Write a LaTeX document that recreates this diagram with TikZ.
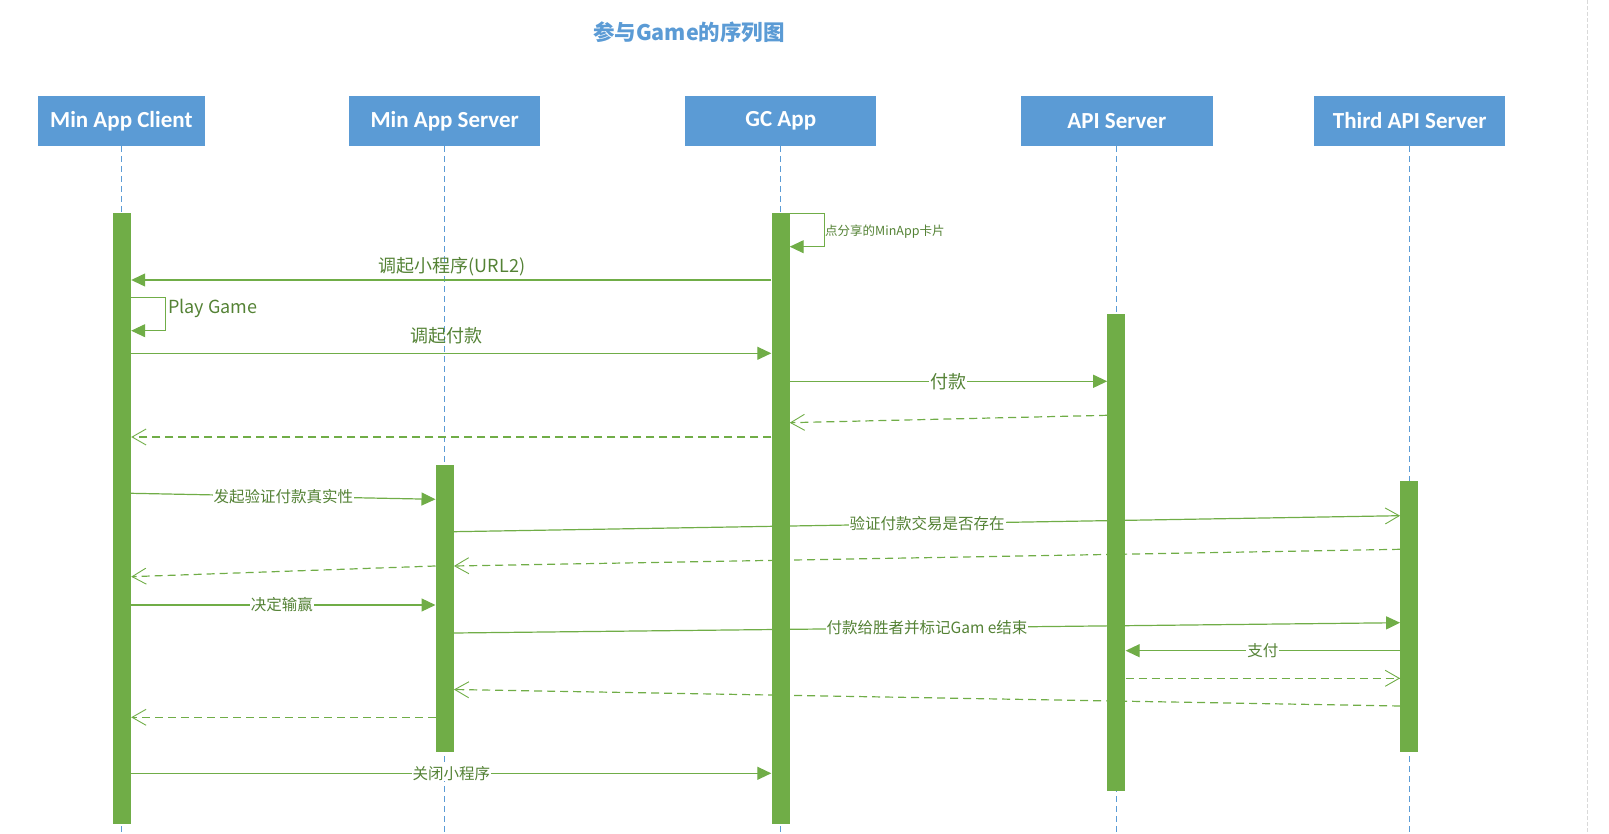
\documentclass[tikz,border=0pt]{standalone}
\usepackage{fontspec}
\newfontfamily\cjk{Noto Sans CJK SC}
\newfontfamily\hdr{Carlito}
\usetikzlibrary{arrows.meta}
\definecolor{hblue}{HTML}{5B9BD5}
\definecolor{lg}{HTML}{70AD47}
\definecolor{dg}{HTML}{548235}
\definecolor{tgray}{HTML}{D9D9D9}
\begin{document}
\begin{tikzpicture}[x=1pt,y=-1pt,
 header/.style={rectangle, fill=hblue, text=white, minimum height=50pt, inner sep=0pt, font=\hdr\bfseries\fontsize{23}{26}\selectfont},
 life/.style={hblue, dash pattern=on 6pt off 4pt, line width=0.8pt},
 bar/.style={rectangle, fill=lg, inner sep=0pt, minimum width=18pt},
 msg/.style={lg, line width=1.2pt, -{Triangle[length=14pt,width=13pt]}},
 ret/.style={lg, line width=1.2pt, dash pattern=on 8pt off 5pt, -{Straight Barb[length=14pt,width=16pt,line width=0.9pt]}},
 omsg/.style={lg, line width=1.2pt, -{Straight Barb[length=14pt,width=16pt,line width=0.9pt]}},
 lab/.style={text=dg, font=\cjk\fontsize{18}{20}\selectfont, inner sep=1pt},
 ilab/.style={lab, fill=white, font=\cjk\fontsize{15.5}{18}\selectfont}
]
\useasboundingbox (0,0) rectangle (1609,834);
\coordinate (bot) at (0,834);
\coordinate (gtop) at (1587,0);
\coordinate (gbot) at (1587,834);
\draw[tgray, dash pattern=on 4pt off 2pt, line width=0.8pt] (gtop) -- (gbot);

\node[text=hblue, font=\cjk\bfseries\fontsize{21.5}{24}\selectfont] (title) at (689,32) {参与Game的序列图};

\node[header, minimum width=166.6pt] (hc) at (121.3,121) {Min App Client};
\node[header, minimum width=191.3pt] (hs) at (444.7,121) {Min App Server};
\node[header, minimum width=191.2pt] (hg) at (780.8,121) {GC App};
\node[header, minimum width=192pt] (ha) at (1116.8,121) {API Server};
\node[header, minimum width=191.4pt] (ht) at (1409.7,121) {Third API Server};

\foreach \h in {hc,hs,hg,ha,ht} {\draw[life] (\h.south) -- (\h.south |- bot);}

\node[bar, minimum height=610.7pt] (cbar) at (122,518.3) {};
\node[bar, minimum height=286.7pt] (sbar) at (444.7,608.3) {};
\node[bar, minimum height=610.7pt] (gbar) at (780.5,518.3) {};
\node[bar, minimum height=476.7pt] (abar) at (1116.4,552.3) {};
\node[bar, minimum height=270.7pt] (tbar) at (1409.3,616.3) {};

% self message on GC App
\coordinate (gs1) at (824,246.7);
\draw[msg, line width=1pt] (gbar.east |- 0,213.5) -| (gs1) -- (gbar.east |- gs1);
\node[lab, anchor=west, font=\cjk\fontsize{12.5}{14}\selectfont] (lgs) at (824,231.7) {点分享的MinApp卡片};

% 调起小程序
\draw[msg] (gbar.west |- 0,280) -- (cbar.east |- 0,280);
\node[lab] (l1) at (452,266.7) {调起小程序(URL2)};

% Play Game
\coordinate (cs1) at (165.3,330.7);
\draw[msg, line width=1pt] (cbar.east |- 0,297.3) -| (cs1) -- (cbar.east |- cs1);
\node[lab, anchor=west] (l2) at (167,308.3) {Play Game};

% 调起付款
\draw[msg] (cbar.east |- 0,353.3) -- (gbar.west |- 0,353.3);
\node[lab] (l3) at (446.7,336) {调起付款};

% 付款
\draw[msg] (gbar.east |- 0,381.3) -- node[ilab, font=\cjk\fontsize{18}{20}\selectfont, pos=0.5] (l4) {付款} (abar.west |- 0,381.3);

% returns
\draw[ret] (abar.west |- 0,415.3) -- (gbar.east |- 0,422.7);
\draw[ret] (gbar.west |- 0,437) -- (cbar.east |- 0,437);

% 发起验证付款真实性
\draw[msg] (cbar.east |- 0,493.3) -- node[ilab, pos=0.5] (l5) {发起验证付款真实性} (sbar.west |- 0,499.3);

% 验证付款交易是否存在
\draw[omsg] (sbar.east |- 0,531.7) -- node[ilab, pos=0.5] (l6) {验证付款交易是否存在} (tbar.west |- 0,515.7);

\draw[ret] (tbar.west |- 0,549.3) -- (sbar.east |- 0,566);
\draw[ret] (sbar.west |- 0,566) -- (cbar.east |- 0,576.7);

% 决定输赢
\draw[msg] (cbar.east |- 0,605) -- node[ilab, pos=0.495] (l7) {决定输赢} (sbar.west |- 0,605);

% 付款给胜者并标记Game结束
\draw[msg] (sbar.east |- 0,633) -- node[ilab, pos=0.5] (l8) {付款给胜者并标记Gam e结束} (tbar.west |- 0,622.7);

% 支付
\draw[msg] (tbar.west |- 0,650.7) -- node[ilab, pos=0.5] (l9) {支付} (abar.east |- 0,650.7);

\draw[ret] (abar.east |- 0,678.3) -- (tbar.west |- 0,678.3);
\draw[ret] (tbar.west |- 0,706) -- (sbar.east |- 0,689.5);
\draw[ret] (sbar.west |- 0,717.3) -- (cbar.east |- 0,717.3);

% 关闭小程序
\draw[msg] (cbar.east |- 0,773.3) -- node[ilab, pos=0.5] (l10) {关闭小程序} (gbar.west |- 0,773.3);
\end{tikzpicture}
\end{document}
